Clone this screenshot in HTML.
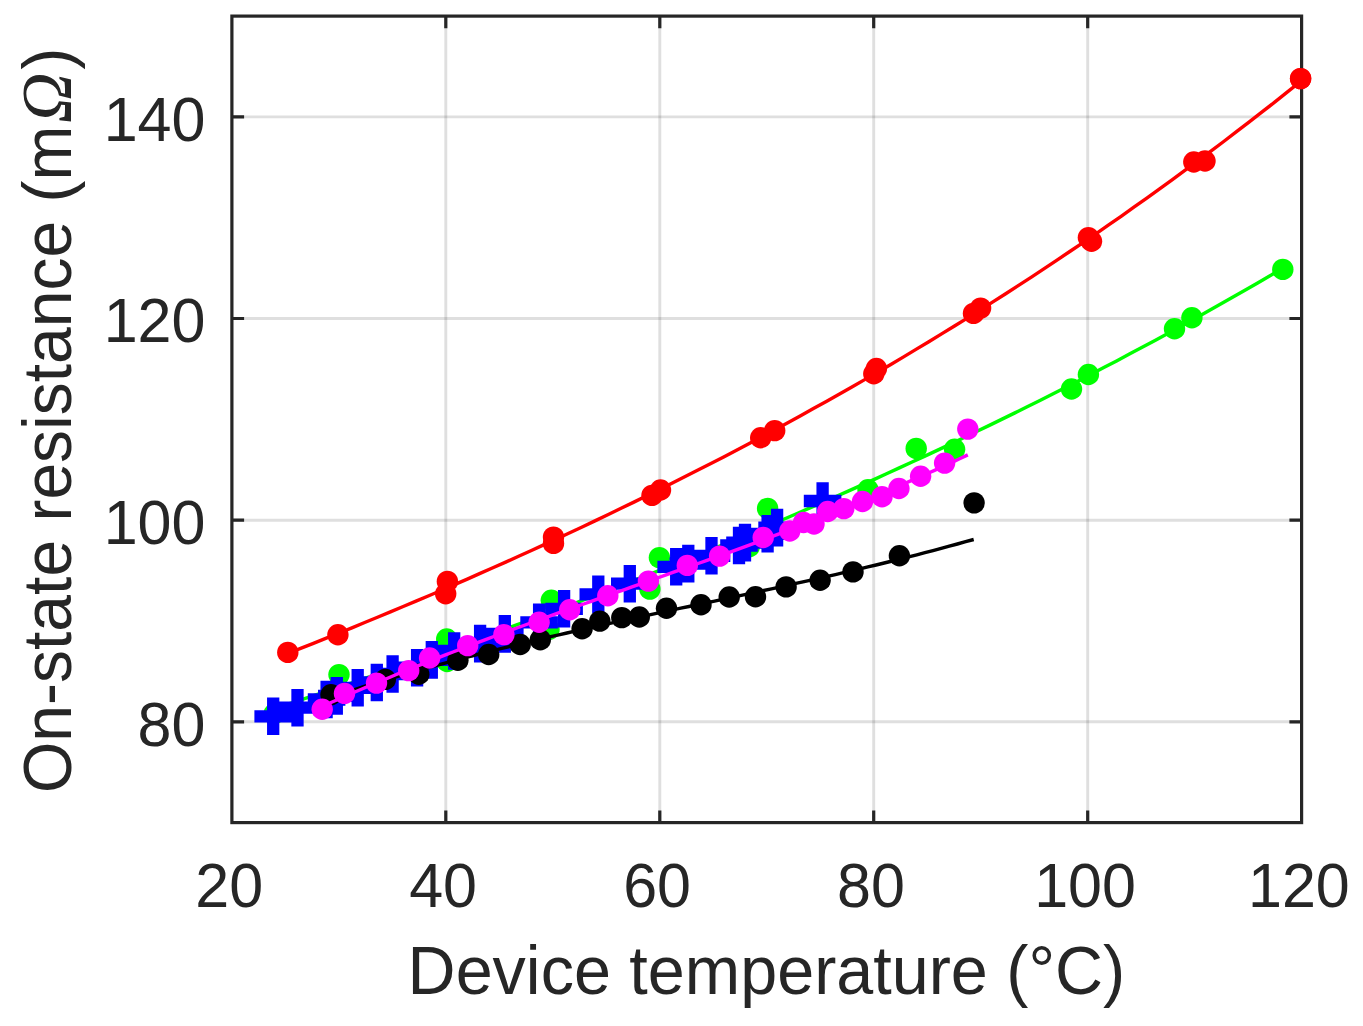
<!DOCTYPE html>
<html lang="en"><head><meta charset="utf-8"><title>On-state resistance vs device temperature</title>
<style>html,body{margin:0;padding:0;background:#fff}svg{display:block}</style></head>
<body>
<svg width="1363" height="1026" viewBox="0 0 1363 1026">
<rect width="1363" height="1026" fill="#fff"/>
<path d="M445.8 16.1V822.6" stroke="#262626" stroke-opacity="0.15" stroke-width="2.9" fill="none"/>
<path d="M659.8 16.1V822.6" stroke="#262626" stroke-opacity="0.15" stroke-width="2.9" fill="none"/>
<path d="M873.7 16.1V822.6" stroke="#262626" stroke-opacity="0.15" stroke-width="2.9" fill="none"/>
<path d="M1087.7 16.1V822.6" stroke="#262626" stroke-opacity="0.15" stroke-width="2.9" fill="none"/>
<path d="M231.9 721.8H1301.6" stroke="#262626" stroke-opacity="0.15" stroke-width="2.9" fill="none"/>
<path d="M231.9 520.2H1301.6" stroke="#262626" stroke-opacity="0.15" stroke-width="2.9" fill="none"/>
<path d="M231.9 318.5H1301.6" stroke="#262626" stroke-opacity="0.15" stroke-width="2.9" fill="none"/>
<path d="M231.9 116.9H1301.6" stroke="#262626" stroke-opacity="0.15" stroke-width="2.9" fill="none"/>
<path d="M445.8 822.6v-12.2M445.8 16.1v12.2M659.8 822.6v-12.2M659.8 16.1v12.2M873.7 822.6v-12.2M873.7 16.1v12.2M1087.7 822.6v-12.2M1087.7 16.1v12.2M231.9 721.8h12.2M1301.6 721.8h-12.2M231.9 520.2h12.2M1301.6 520.2h-12.2M231.9 318.5h12.2M1301.6 318.5h-12.2M231.9 116.9h12.2M1301.6 116.9h-12.2" stroke="#262626" stroke-width="3.2" fill="none"/>
<g>
<polyline fill="none" stroke="#f00" stroke-width="3.40" stroke-linejoin="round" points="287.8,653.5 300.6,648.4 313.4,643.3 326.3,638.2 339.1,633.0 351.9,627.8 364.7,622.5 377.5,617.2 390.4,611.9 403.2,606.5 416.0,601.1 428.8,595.7 441.6,590.2 454.5,584.6 467.3,579.1 480.1,573.4 492.9,567.8 505.7,562.1 518.6,556.3 531.4,550.5 544.2,544.6 557.0,538.7 569.8,532.7 582.7,526.7 595.5,520.6 608.3,514.5 621.1,508.3 633.9,502.1 646.8,495.8 659.6,489.5 672.4,483.1 685.2,476.6 698.0,470.1 710.9,463.5 723.7,456.9 736.5,450.2 749.3,443.4 762.1,436.6 775.0,429.7 787.8,422.8 800.6,415.7 813.4,408.6 826.3,401.5 839.1,394.3 851.9,387.0 864.7,379.6 877.5,372.2 890.4,364.7 903.2,357.1 916.0,349.4 928.8,341.7 941.6,333.9 954.5,326.0 967.3,318.1 980.1,310.0 992.9,301.9 1005.7,293.7 1018.6,285.4 1031.4,277.1 1044.2,268.7 1057.0,260.1 1069.8,251.5 1082.7,242.8 1095.5,234.1 1108.3,225.2 1121.1,216.3 1133.9,207.2 1146.8,198.1 1159.6,188.9 1172.4,179.6 1185.2,170.2 1198.0,160.7 1210.9,151.2 1223.7,141.5 1236.5,131.7 1249.3,121.9 1262.1,111.9 1275.0,101.9 1287.8,91.7 1300.6,81.5"/>
<circle cx="287.8" cy="652.4" r="10.7" fill="#f00"/><circle cx="337.9" cy="634.8" r="10.7" fill="#f00"/><circle cx="445.7" cy="593.8" r="10.7" fill="#f00"/><circle cx="447.4" cy="581.4" r="10.7" fill="#f00"/><circle cx="553.5" cy="537.1" r="10.7" fill="#f00"/><circle cx="553.5" cy="543.4" r="10.7" fill="#f00"/><circle cx="652.0" cy="495.4" r="10.7" fill="#f00"/><circle cx="660.5" cy="490.0" r="10.7" fill="#f00"/><circle cx="760.7" cy="437.7" r="10.7" fill="#f00"/><circle cx="774.7" cy="430.6" r="10.7" fill="#f00"/><circle cx="873.8" cy="373.8" r="10.7" fill="#f00"/><circle cx="876.4" cy="368.5" r="10.7" fill="#f00"/><circle cx="973.5" cy="313.4" r="10.7" fill="#f00"/><circle cx="980.6" cy="308.1" r="10.7" fill="#f00"/><circle cx="1088.4" cy="237.6" r="10.7" fill="#f00"/><circle cx="1091.5" cy="241.3" r="10.7" fill="#f00"/><circle cx="1193.8" cy="162.0" r="10.7" fill="#f00"/><circle cx="1205.0" cy="161.0" r="10.7" fill="#f00"/><circle cx="1300.6" cy="78.6" r="10.7" fill="#f00"/>
<polyline fill="none" stroke="#0f0" stroke-width="3.40" stroke-linejoin="round" points="273.0,708.9 285.8,704.8 298.6,700.6 311.3,696.4 324.1,692.1 336.9,687.8 349.7,683.6 362.5,679.2 375.3,674.9 388.0,670.5 400.8,666.1 413.6,661.7 426.4,657.2 439.2,652.8 452.0,648.2 464.7,643.7 477.5,639.1 490.3,634.5 503.1,629.9 515.9,625.2 528.6,620.5 541.4,615.8 554.2,611.0 567.0,606.2 579.8,601.4 592.6,596.5 605.3,591.6 618.1,586.7 630.9,581.7 643.7,576.7 656.5,571.6 669.3,566.5 682.0,561.4 694.8,556.2 707.6,551.0 720.4,545.8 733.2,540.5 745.9,535.2 758.7,529.8 771.5,524.4 784.3,519.0 797.1,513.5 809.9,507.9 822.6,502.4 835.4,496.7 848.2,491.1 861.0,485.4 873.8,479.6 886.5,473.8 899.3,467.9 912.1,462.0 924.9,456.1 937.7,450.1 950.5,444.1 963.2,438.0 976.0,431.8 988.8,425.6 1001.6,419.4 1014.4,413.1 1027.2,406.8 1039.9,400.4 1052.7,393.9 1065.5,387.4 1078.3,380.9 1091.1,374.2 1103.8,367.6 1116.6,360.9 1129.4,354.1 1142.2,347.3 1155.0,340.4 1167.8,333.4 1180.5,326.4 1193.3,319.4 1206.1,312.3 1218.9,305.1 1231.7,297.8 1244.5,290.6 1257.2,283.2 1270.0,275.8 1282.8,268.3"/>
<circle cx="274.0" cy="714.0" r="10.7" fill="#0f0"/><circle cx="339.0" cy="674.6" r="10.7" fill="#0f0"/><circle cx="446.7" cy="639.0" r="10.7" fill="#0f0"/><circle cx="447.1" cy="661.5" r="10.7" fill="#0f0"/><circle cx="551.3" cy="600.2" r="10.7" fill="#0f0"/><circle cx="549.0" cy="629.5" r="10.7" fill="#0f0"/><circle cx="659.4" cy="557.6" r="10.7" fill="#0f0"/><circle cx="649.9" cy="589.1" r="10.7" fill="#0f0"/><circle cx="767.6" cy="508.4" r="10.7" fill="#0f0"/><circle cx="749.2" cy="546.7" r="10.7" fill="#0f0"/><circle cx="868.0" cy="489.8" r="10.7" fill="#0f0"/><circle cx="916.2" cy="448.4" r="10.7" fill="#0f0"/><circle cx="954.6" cy="449.2" r="10.7" fill="#0f0"/><circle cx="1071.5" cy="389.0" r="10.7" fill="#0f0"/><circle cx="1088.4" cy="374.5" r="10.7" fill="#0f0"/><circle cx="1174.5" cy="328.8" r="10.7" fill="#0f0"/><circle cx="1191.9" cy="317.7" r="10.7" fill="#0f0"/><circle cx="1282.8" cy="269.4" r="10.7" fill="#0f0"/>
<path d="M254.4 716.3h37.6M273.2 697.5v37.6M278.7 707.7h37.6M297.5 688.9v37.6M307.8 699.5h37.6M326.6 680.7v37.6M318.0 695.9h37.6M336.8 677.1v37.6M338.9 687.8h37.6M357.7 669.0v37.6M358.0 682.5h37.6M376.8 663.7v37.6M373.8 674.0h37.6M392.6 655.2v37.6M398.3 667.7h37.6M417.1 648.9v37.6M413.0 659.9h37.6M431.8 641.1v37.6M435.4 651.0h37.6M454.2 632.2v37.6M461.3 643.6h37.6M480.1 624.8v37.6M486.0 633.9h37.6M504.8 615.1v37.6M520.3 622.3h37.6M539.1 603.5v37.6M545.3 608.8h37.6M564.1 590.0v37.6M579.5 594.4h37.6M598.3 575.6v37.6M611.0 583.7h37.6M629.8 564.9v37.6M657.4 566.8h37.6M676.2 548.0v37.6M669.5 563.6h37.6M688.3 544.8v37.6M692.7 555.8h37.6M711.5 537.0v37.6M720.2 545.5h37.6M739.0 526.7v37.6M726.2 542.6h37.6M745.0 523.8v37.6M748.8 533.8h37.6M767.6 515.0v37.6M758.3 527.6h37.6M777.1 508.8v37.6M803.8 501.0h37.6M822.6 482.2v37.6" stroke="#00f" stroke-width="12.3" fill="none"/>
<polyline fill="none" stroke="#000" stroke-width="3.40" stroke-linejoin="round" points="331.0,697.2 339.1,694.5 347.3,691.9 355.4,689.3 363.5,686.7 371.7,684.2 379.8,681.7 387.9,679.2 396.1,676.8 404.2,674.4 412.4,672.1 420.5,669.8 428.6,667.5 436.8,665.3 444.9,663.1 453.0,660.9 461.2,658.7 469.3,656.6 477.4,654.5 485.6,652.4 493.7,650.4 501.8,648.4 510.0,646.4 518.1,644.4 526.3,642.5 534.4,640.5 542.5,638.6 550.7,636.7 558.8,634.9 566.9,633.0 575.1,631.2 583.2,629.3 591.3,627.5 599.5,625.7 607.6,623.9 615.7,622.2 623.9,620.4 632.0,618.6 640.1,616.9 648.3,615.1 656.4,613.4 664.6,611.7 672.7,609.9 680.8,608.2 689.0,606.5 697.1,604.7 705.2,603.0 713.4,601.3 721.5,599.6 729.6,597.8 737.8,596.1 745.9,594.3 754.0,592.6 762.2,590.8 770.3,589.1 778.4,587.3 786.6,585.5 794.7,583.7 802.9,581.9 811.0,580.1 819.1,578.3 827.3,576.4 835.4,574.6 843.5,572.7 851.7,570.8 859.8,568.9 867.9,566.9 876.1,565.0 884.2,563.0 892.3,561.0 900.5,559.0 908.6,556.9 916.8,554.8 924.9,552.7 933.0,550.6 941.2,548.4 949.3,546.2 957.4,544.0 965.6,541.7 973.7,539.5"/>
<circle cx="331.0" cy="694.8" r="10.7" fill="#000"/><circle cx="385.3" cy="679.4" r="10.7" fill="#000"/><circle cx="418.8" cy="674.3" r="10.7" fill="#000"/><circle cx="457.9" cy="660.3" r="10.7" fill="#000"/><circle cx="488.7" cy="654.5" r="10.7" fill="#000"/><circle cx="520.2" cy="644.5" r="10.7" fill="#000"/><circle cx="540.3" cy="639.8" r="10.7" fill="#000"/><circle cx="582.1" cy="628.8" r="10.7" fill="#000"/><circle cx="599.8" cy="621.1" r="10.7" fill="#000"/><circle cx="621.8" cy="617.6" r="10.7" fill="#000"/><circle cx="639.3" cy="617.0" r="10.7" fill="#000"/><circle cx="666.5" cy="608.3" r="10.7" fill="#000"/><circle cx="701.0" cy="604.8" r="10.7" fill="#000"/><circle cx="729.2" cy="597.0" r="10.7" fill="#000"/><circle cx="755.5" cy="596.7" r="10.7" fill="#000"/><circle cx="786.1" cy="586.9" r="10.7" fill="#000"/><circle cx="820.1" cy="580.2" r="10.7" fill="#000"/><circle cx="853.0" cy="571.9" r="10.7" fill="#000"/><circle cx="899.4" cy="555.8" r="10.7" fill="#000"/><circle cx="974.1" cy="502.9" r="10.7" fill="#000"/>
<polyline fill="none" stroke="#f0f" stroke-width="3.40" stroke-linejoin="round" points="322.2,706.5 330.4,702.8 338.5,699.2 346.7,695.6 354.9,692.0 363.1,688.5 371.2,685.0 379.4,681.6 387.6,678.2 395.7,674.8 403.9,671.4 412.1,668.1 420.3,664.8 428.4,661.6 436.6,658.4 444.8,655.2 453.0,652.0 461.1,648.9 469.3,645.8 477.5,642.7 485.6,639.6 493.8,636.5 502.0,633.5 510.2,630.5 518.3,627.5 526.5,624.5 534.7,621.5 542.8,618.6 551.0,615.7 559.2,612.7 567.4,609.8 575.5,606.9 583.7,604.0 591.9,601.1 600.1,598.2 608.2,595.3 616.4,592.4 624.6,589.6 632.7,586.7 640.9,583.8 649.1,580.9 657.3,578.0 665.4,575.1 673.6,572.2 681.8,569.3 689.9,566.4 698.1,563.5 706.3,560.6 714.5,557.7 722.6,554.7 730.8,551.8 739.0,548.8 747.2,545.8 755.3,542.8 763.5,539.8 771.7,536.7 779.8,533.6 788.0,530.6 796.2,527.5 804.4,524.3 812.5,521.2 820.7,518.0 828.9,514.8 837.0,511.5 845.2,508.3 853.4,505.0 861.6,501.6 869.7,498.3 877.9,494.9 886.1,491.4 894.3,488.0 902.4,484.5 910.6,480.9 918.8,477.3 926.9,473.7 935.1,470.1 943.3,466.3 951.5,462.6 959.6,458.8 967.8,454.9"/>
<circle cx="322.2" cy="709.2" r="10.7" fill="#f0f"/><circle cx="344.5" cy="693.4" r="10.7" fill="#f0f"/><circle cx="376.5" cy="683.1" r="10.7" fill="#f0f"/><circle cx="408.7" cy="670.6" r="10.7" fill="#f0f"/><circle cx="429.6" cy="658.0" r="10.7" fill="#f0f"/><circle cx="467.7" cy="645.6" r="10.7" fill="#f0f"/><circle cx="503.9" cy="634.6" r="10.7" fill="#f0f"/><circle cx="539.1" cy="622.2" r="10.7" fill="#f0f"/><circle cx="569.7" cy="609.7" r="10.7" fill="#f0f"/><circle cx="607.8" cy="595.8" r="10.7" fill="#f0f"/><circle cx="648.4" cy="581.1" r="10.7" fill="#f0f"/><circle cx="687.3" cy="565.4" r="10.7" fill="#f0f"/><circle cx="719.6" cy="556.1" r="10.7" fill="#f0f"/><circle cx="763.2" cy="537.5" r="10.7" fill="#f0f"/><circle cx="789.8" cy="531.0" r="10.7" fill="#f0f"/><circle cx="803.5" cy="522.5" r="10.7" fill="#f0f"/><circle cx="814.0" cy="524.0" r="10.7" fill="#f0f"/><circle cx="827.7" cy="511.5" r="10.7" fill="#f0f"/><circle cx="843.8" cy="508.6" r="10.7" fill="#f0f"/><circle cx="862.5" cy="501.5" r="10.7" fill="#f0f"/><circle cx="882.0" cy="496.8" r="10.7" fill="#f0f"/><circle cx="898.9" cy="488.5" r="10.7" fill="#f0f"/><circle cx="920.6" cy="476.3" r="10.7" fill="#f0f"/><circle cx="944.6" cy="463.1" r="10.7" fill="#f0f"/><circle cx="967.8" cy="429.1" r="10.7" fill="#f0f"/>
</g>
<rect x="231.9" y="16.1" width="1069.7" height="806.5" fill="none" stroke="#262626" stroke-width="3.2"/>
<circle cx="1300.6" cy="78.6" r="10.7" fill="#f00"/>
<g font-family="'Liberation Sans', Arial, sans-serif" font-size="61.0" fill="#262626">
<text transform="translate(229.2,906.5) scale(1,1.022)" text-anchor="middle">20</text>
<text transform="translate(443.1,906.5) scale(1,1.022)" text-anchor="middle">40</text>
<text transform="translate(657.1,906.5) scale(1,1.022)" text-anchor="middle">60</text>
<text transform="translate(871.0,906.5) scale(1,1.022)" text-anchor="middle">80</text>
<text transform="translate(1085.0,906.5) scale(1,1.022)" text-anchor="middle">100</text>
<text transform="translate(1298.9,906.5) scale(1,1.022)" text-anchor="middle">120</text>
<text transform="translate(205.4,745.6) scale(1,1.022)" text-anchor="end">80</text>
<text transform="translate(205.4,544.0) scale(1,1.022)" text-anchor="end">100</text>
<text transform="translate(205.4,342.3) scale(1,1.022)" text-anchor="end">120</text>
<text transform="translate(205.4,140.7) scale(1,1.022)" text-anchor="end">140</text>
</g>
<g font-family="'Liberation Sans', Arial, sans-serif" font-size="66.5" fill="#262626">
<text transform="translate(766.4,994) scale(1,1.025)" text-anchor="middle">Device temperature (°C)</text>
<text transform="translate(71,793) rotate(-90) scale(1,1.025)" font-size="66">On-state resistance (m<tspan font-family="'Liberation Serif', 'DejaVu Serif', serif" font-style="italic" font-size="70" dx="2.5">Ω</tspan><tspan dx="2.5">)</tspan></text>
</g>
</svg>
</body></html>
